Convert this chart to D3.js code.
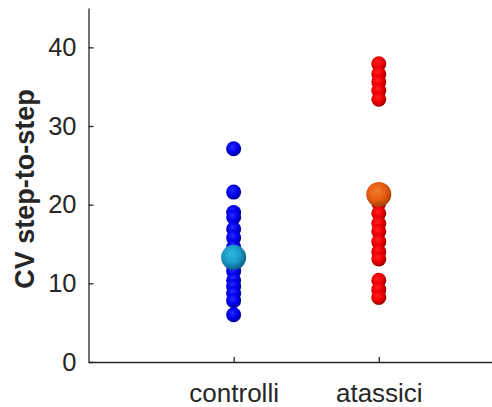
<!DOCTYPE html>
<html>
<head>
<meta charset="utf-8">
<script src="https://cdn.jsdelivr.net/npm/d3@7"></script>
<style>
  body { margin: 0; background: #fff; }
  svg { display: block; font-family: "Liberation Sans", Arial, sans-serif; }
</style>
</head>
<body>
<div id="chart"></div>
<script>
const categories = ['controlli', 'atassici'];
const controlliValues = [27.1, 21.6, 19.0, 18.4, 16.9, 15.8, 14.6, 12.2, 11.5, 10.4, 9.6, 8.7, 7.8, 6.0];
const atassiciValues = [37.9, 36.6, 35.6, 34.5, 33.4, 20.2, 18.9, 17.6, 16.6, 15.3, 14.0, 13.1, 10.4, 9.2, 8.2];
const groupMeans = [13.3, 21.3];
const yTicks = [0, 10, 20, 30, 40];

const width = 492;
const height = 407;
const margin = { top: 8, left: 88.5, bottom: 45 };

const svg = d3.select('#chart').append('svg')
  .attr('width', width)
  .attr('height', height);

const defs = svg.append('defs');
function sphere(id, light, mid, dark) {
  const g = defs.append('radialGradient')
    .attr('id', id)
    .attr('cx', '42%').attr('cy', '38%').attr('r', '62%');
  g.append('stop').attr('offset', '0%').attr('stop-color', light);
  g.append('stop').attr('offset', '55%').attr('stop-color', mid);
  g.append('stop').attr('offset', '100%').attr('stop-color', dark);
}
sphere('blue', '#2a2aff', '#0000ee', '#00008e');
sphere('red', '#ff2020', '#ee0000', '#980000');
sphere('cyan', '#2fb6e0', '#1a9cc8', '#0b5f86');
sphere('orange', '#f27a28', '#e85e12', '#a8400a');

const x = d3.scaleLinear()
  .domain([0, 2.78])
  .range([margin.left, width]);

const y = d3.scaleLinear()
  .domain([0, 45])
  .range([height - margin.bottom, margin.top]);

const axisColor = '#262626';

// y axis
const yAxis = svg.append('g')
  .attr('transform', `translate(${margin.left},0)`)
  .call(d3.axisLeft(y).tickValues(yTicks).tickSizeInner(-5).tickSizeOuter(0).tickPadding(12));
yAxis.select('.domain').attr('stroke', axisColor).attr('stroke-width', 1.3);
yAxis.selectAll('.tick line').attr('stroke', axisColor).attr('stroke-width', 1.3);
yAxis.selectAll('.tick text')
  .attr('fill', axisColor)
  .style('font-size', '25.5px');

// x axis
const xAxis = svg.append('g')
  .attr('transform', `translate(0,${y(0)})`)
  .call(d3.axisBottom(x).tickValues([1, 2]).tickFormat(d => categories[d - 1])
    .tickSizeInner(-5).tickSizeOuter(0).tickPadding(22));
xAxis.select('.domain').attr('stroke', axisColor).attr('stroke-width', 1.3);
xAxis.selectAll('.tick line').attr('stroke', axisColor).attr('stroke-width', 1.3);
xAxis.selectAll('.tick text')
  .attr('fill', axisColor)
  .style('font-size', '26px');

svg.append('text')
  .attr('transform', `translate(34,189) rotate(-90)`)
  .attr('text-anchor', 'middle')
  .style('font-size', '27px')
  .style('font-weight', 'bold')
  .attr('fill', axisColor)
  .text('CV step-to-step');

const groups = [
  { values: controlliValues, fill: 'url(#blue)', meanFill: 'url(#cyan)' },
  { values: atassiciValues, fill: 'url(#red)', meanFill: 'url(#orange)' }
];

groups.forEach((grp, i) => {
  svg.append('g')
    .selectAll('circle')
    .data(grp.values)
    .join('circle')
    .attr('cx', x(i + 1))
    .attr('cy', d => y(d))
    .attr('r', 7.5)
    .attr('fill', grp.fill);

  svg.append('circle')
    .attr('cx', x(i + 1))
    .attr('cy', y(groupMeans[i]))
    .attr('r', 12.5)
    .attr('fill', grp.meanFill);
});
</script>
</body>
</html>
